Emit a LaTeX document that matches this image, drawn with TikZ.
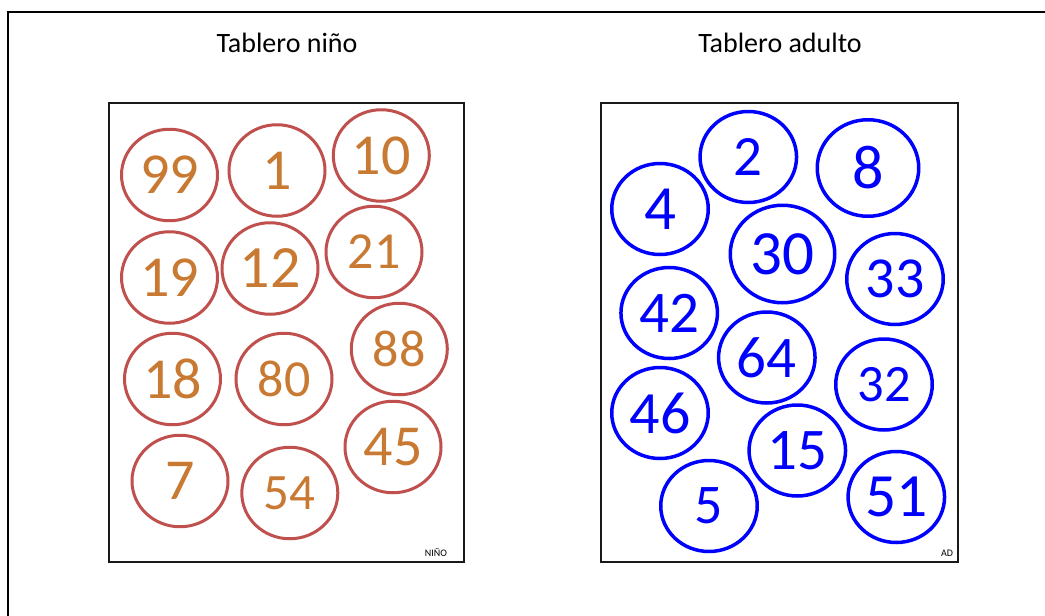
\documentclass[tikz,border=0pt]{standalone}
\usepackage{fontspec}
\setmainfont{Carlito}
\usetikzlibrary{shapes.geometric}
\definecolor{kidred}{RGB}{192,80,77}
\definecolor{kidorange}{RGB}{200,121,50}
\definecolor{adblue}{RGB}{0,0,255}
\tikzset{
  fsz/.style={font={\fontsize{#1}{#1}\selectfont}},
  kidball/.style={ellipse, draw=kidred, line width=3pt, text=kidorange,
    minimum width=96pt, minimum height=91.5pt, inner sep=0pt},
  adball/.style={ellipse, draw=adblue, line width=3.5pt, text=adblue,
    minimum width=96.5pt, minimum height=91pt, inner sep=0pt},
  board/.style={draw=black!90, line width=1.5pt},
  title/.style={anchor=base, font={\fontsize{28}{28}\selectfont}},
  tag/.style={anchor=base, font={\fontsize{10}{10}\selectfont}},
}
\begin{document}
\begin{tikzpicture}[x=1pt,y=-1pt]
\useasboundingbox (0,0) rectangle (1045,616);
\fill[white] (0,0) rectangle (1045,616);
% outer frame
\coordinate (fbl) at (7.5,616);
\coordinate (ftl) at (7.5,12);
\coordinate (ftr) at (1045,12);
\draw[line width=2pt] (fbl) -- (ftl) -- (ftr);
% titles
\node[title] (tkid) at (287,52) {Tablero niño};
\node[title] (tad) at (780,52) {Tablero adulto};
% boards
\draw[board] (109,103) rectangle (464,562);
\draw[board] (601,103) rectangle (958,562);
\node[tag] (lkid) at (436,556) {NIÑO};
\node[tag] (lad) at (947,556) {AD};
% kid circles
\node[kidball, fsz=58] (k99) at (169.5,175) {99};
\node[kidball, fsz=58] (k1) at (277,170.5) {1};
\node[kidball, fsz=58] (k10) at (381.3,155.5) {10};
\node[kidball, fsz=58] (k19) at (169.5,277.5) {19};
\node[kidball, fsz=60] (k12) at (270,268.5) {12};
\node[kidball, fsz=52] (k21) at (374,252) {21};
\node[kidball, fsz=58] (k18) at (172.5,379) {18};
\node[kidball, fsz=52] (k80) at (284,379) {80};
\node[kidball, fsz=52] (k88) at (399.3,349) {88};
\node[kidball, fsz=58] (k7) at (180,481) {7};
\node[kidball, fsz=51] (k54) at (289.8,493) {54};
\node[kidball, fsz=58] (k45) at (393,447) {45};
% adult circles
\node[adball, fsz=57] (a2) at (748.3,157) {2};
\node[adball, fsz=62, minimum width=101.5pt, minimum height=96.5pt] (a8) at (868,168) {8};
\node[adball, fsz=63] (a4) at (660,209) {4};
\node[adball, fsz=63, minimum width=104.5pt, minimum height=97.5pt] (a30) at (782.5,254) {30};
\node[adball, fsz=58] (a33) at (895,279) {33};
\node[adball, fsz=59] (a42) at (669.2,313) {42};
\node[adball, fsz=59] (a64) at (766.8,357.5) {64};
\node[adball, fsz=52.5] (a32) at (884,384.5) {32};
\node[adball, fsz=60] (a46) at (660,413) {46};
\node[adball, fsz=59] (a15) at (797.3,450.5) {15};
\node[adball, fsz=56] (a5) at (709,506) {5};
\node[adball, fsz=61.5] (a51) at (896.3,497) {51};
\end{tikzpicture}
\end{document}
